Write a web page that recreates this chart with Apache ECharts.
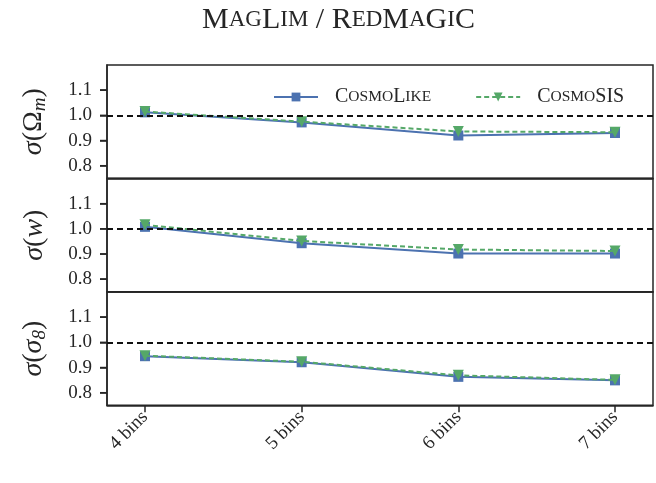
<!DOCTYPE html>
<html>
<head>
<meta charset="utf-8">
<script src="https://cdn.jsdelivr.net/npm/echarts@6/dist/echarts.min.js"></script>
<style>html,body{margin:0;padding:0;background:#fff}#c{width:656px;height:483px}</style>
</head>
<body>
<div id="c"></div>
<script>
const categories = ['4 bins', '5 bins', '6 bins', '7 bins'];
const yTicks = [0.8, 0.9, 1.0, 1.1];
const omegaLike = [1.012, 0.972, 0.920, 0.930];
const omegaSIS  = [1.015, 0.975, 0.936, 0.933];
const wLike     = [1.008, 0.943, 0.902, 0.902];
const wSIS      = [1.016, 0.952, 0.918, 0.912];
const s8Like    = [0.945, 0.921, 0.863, 0.849];
const s8SIS     = [0.947, 0.923, 0.869, 0.851];
const refValue = 1.0;

const blue = '#4C72B0', green = '#55A868', axisCol = '#262626';
const serif = 'Liberation Serif';
const chart = echarts.init(document.getElementById('c'));

// x axis: category index k placed at k + pad, axis spans [0, n-1 + 2*pad]
const pad = 0.2426;
const xPos = categories.map((c, k) => k + pad);

const tops = [65, 178.5, 292];
const h = 113.3;
const grids = tops.map(t => ({left: 107, right: 3, top: t, height: h, show: true, borderColor: axisCol, borderWidth: 1.5, backgroundColor: 'transparent'}));

const xAxes = tops.map((t, i) => ({
  type: 'value', gridIndex: i, min: 0, max: categories.length - 1 + 2 * pad,
  splitLine: {show: false}, axisLine: {show: true, lineStyle: {color: axisCol, width: 1.5}},
  axisTick: {show: i === 2, length: 7, lineStyle: {color: axisCol, width: 1.5}, customValues: xPos},
  axisLabel: {show: i === 2, customValues: xPos, rotate: 45, margin: 9, fontFamily: serif, fontSize: 19, color: '#262626',
    formatter: v => categories[Math.round(v - pad)] || ''}
}));

const names = [
  '{i|σ}{n|(Ω}{sub|m}{n|)}',
  '{i|σ}{n|(}{i|w}{n|)}',
  '{i|σ}{n|(}{i|σ}{sub|8}{n|)}'
];
const rich = {
  i: {fontFamily: serif, fontStyle: 'italic', fontSize: 28, color: '#262626'},
  n: {fontFamily: serif, fontSize: 28, color: '#262626'},
  sub: {fontFamily: serif, fontStyle: 'italic', fontSize: 19, color: '#262626', verticalAlign: 'bottom', padding: [12, 0, 0, 0]}
};
const yAxes = tops.map((t, i) => ({
  type: 'value', gridIndex: i, min: 0.75, max: 1.2,
  splitLine: {show: false}, axisLine: {show: true, lineStyle: {color: axisCol, width: 1.5}},
  axisTick: {show: true, length: 7, lineStyle: {color: axisCol, width: 1.5}, customValues: yTicks},
  axisLabel: {customValues: yTicks, margin: 15, fontFamily: serif, fontSize: 19, color: '#262626', formatter: v => v.toFixed(1)},
  name: names[i], nameLocation: 'middle', nameRotate: 90, nameGap: 58,
  nameTextStyle: {rich: rich}
}));

function pts(arr) { return arr.map((v, k) => [xPos[k], v]); }
const panels = [[omegaLike, omegaSIS], [wLike, wSIS], [s8Like, s8SIS]];
const series = [];
panels.forEach((p, i) => {
  series.push({
    name: 'CosmoLike', type: 'line', xAxisIndex: i, yAxisIndex: i, data: pts(p[0]),
    symbol: 'rect', symbolSize: 10, itemStyle: {color: blue}, lineStyle: {color: blue, width: 2}, z: 3,
    markLine: {silent: true, symbol: 'none', label: {show: false},
      lineStyle: {color: '#111', type: [6, 4], width: 2}, data: [{yAxis: refValue}]}
  });
  series.push({
    name: 'CosmoSIS', type: 'line', xAxisIndex: i, yAxisIndex: i, data: pts(p[1]),
    symbol: 'triangle', symbolRotate: 180, symbolSize: 11, itemStyle: {color: green}, lineStyle: {color: green, width: 2, type: [5, 3]}, z: 4
  });
  // y-axis tick marks (outward), positioned through the axis scale
  series.push({
    name: 'yticks' + i, type: 'custom', xAxisIndex: i, yAxisIndex: i, silent: true, clip: false, z: 5,
    data: yTicks.map(v => [0, v]),
    renderItem: (params, api) => {
      const c = api.coord([api.value(0), api.value(1)]);
      return {type: 'line', shape: {x1: c[0] - 7, y1: c[1], x2: c[0], y2: c[1]},
        style: {stroke: axisCol, lineWidth: 1.5}};
    }
  });
});

const legendRich = {
  b: {fontFamily: serif, fontSize: 20, color: '#262626'},
  s: {fontFamily: serif, fontSize: 15.5, color: '#262626'}
};
chart.setOption({
  animation: false,
  title: {text: '{b|M}{s|AG}{b|L}{s|IM}{b| / R}{s|ED}{b|M}{s|A}{b|G}{s|I}{b|C}', left: 197, top: 0,
    textStyle: {fontWeight: 'normal', rich: {b: {fontFamily: serif, fontSize: 30, fontWeight: 'normal', color: '#262626'}, s: {fontFamily: serif, fontSize: 23, fontWeight: 'normal', color: '#262626'}}}},
  legend: {top: 82, left: 268, itemWidth: 44, itemHeight: 11, itemGap: 44,
    data: ['CosmoLike', 'CosmoSIS'],
    formatter: n => n === 'CosmoLike' ? '{b|C}{s|OSMO}{b|L}{s|IKE}' : '{b|C}{s|OSMO}{b|SIS}',
    textStyle: {rich: legendRich, padding: [0, 0, 0, 12]}},
  grid: grids, xAxis: xAxes, yAxis: yAxes, series: series
});
</script>
</body>
</html>
